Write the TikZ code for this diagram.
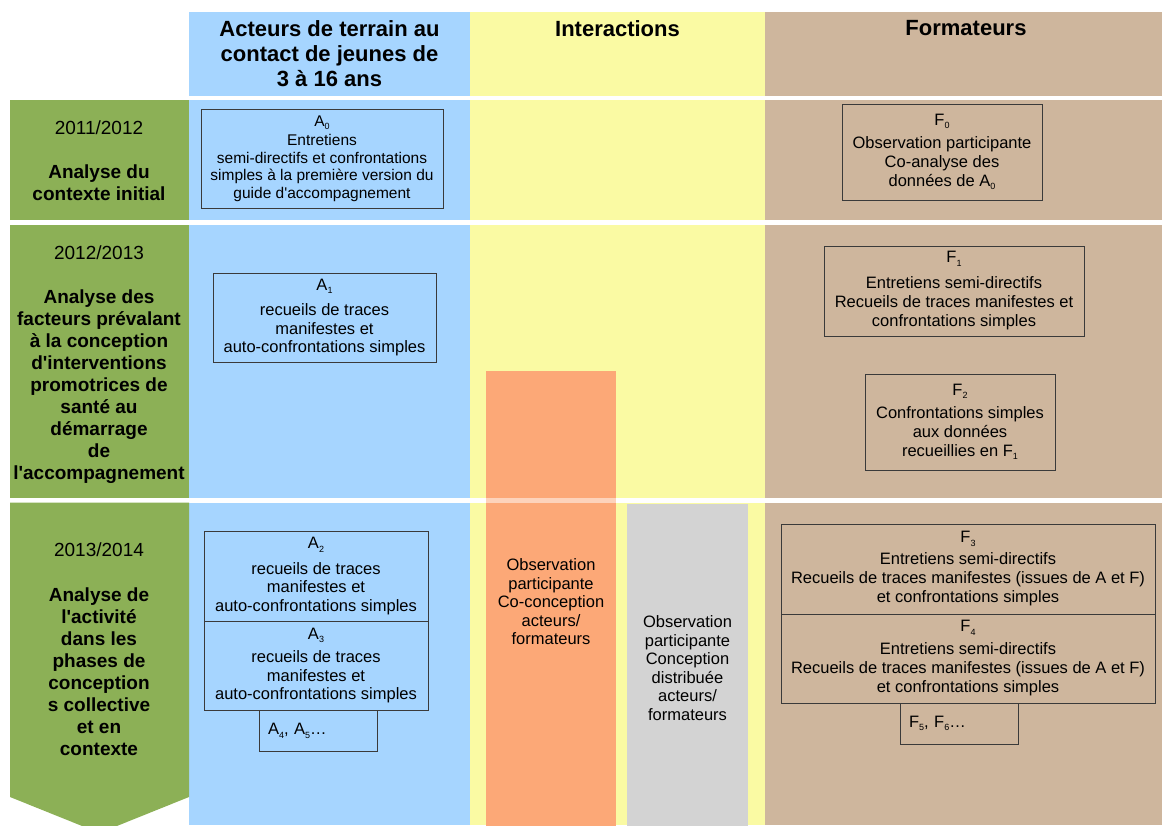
\documentclass[tikz,border=0pt]{standalone}
\usepackage{fontspec}
\setmainfont{Liberation Sans}[Ligatures=TeXOff]
\usepackage{tikz}

\definecolor{acteurs}{HTML}{A6D5FF}
\definecolor{interact}{HTML}{FAFAA3}
\definecolor{formateurs}{HTML}{CEB69D}
\definecolor{phase}{HTML}{8CB056}
\definecolor{coconc}{HTML}{FCA877}
\definecolor{distrib}{HTML}{D3D3D3}
\definecolor{trait}{HTML}{3A3A3A}

\newcommand{\setfs}[2]{\fontsize{#1}{#2}\selectfont}
\newcommand{\lowidx}[1]{\raisebox{-3.5pt}{\setfs{9}{9}#1}}

\begin{document}
\begin{tikzpicture}
        [
            x = 1pt, y = -1pt,
            box/.style = {draw = trait, line width = 0.8pt, inner sep = 0pt, align = center},
            abox/.style = {box, font = \setfs{16.5}{18.5}},
            fbox/.style = {box, font = \setfs{16.5}{19}},
            more/.style = {box, align = left, inner xsep = 9pt, text width = 100pt, minimum height = 41pt, font = \setfs{16.5}{19}},
            head/.style = {anchor = north, align = center, inner sep = 0pt, font = \setfs{22}{25}\bfseries},
            phasetxt/.style = {anchor = north, align = center, inner sep = 0pt, font = \setfs{19}{22}},
            bar/.style = {align = center, inner sep = 0pt, font = \setfs{16.5}{18.5}},
        ]

        \useasboundingbox (0,0) rectangle (1162,825);
        \clip (0,0) rectangle (1162,825);

        % colonnes
        \fill[acteurs] (189,12) rectangle (470,825);
        \fill[interact] (470,12) rectangle (765,825);
        \fill[formateurs] (765,12) rectangle (1162,825);
        \foreach \ya/\yb in {95.5/100, 219.5/224.5, 498/502.5}
            \fill[white] (0,\ya) rectangle (1162,\yb);

        % phases
        \fill[phase] (10,100) rectangle (189,219.5);
        \fill[phase] (10,224.5) rectangle (189,498);
        \fill[phase] (10,502.5) -- (189,502.5) -- (189,797) -- (99.5,833) -- (10,797) -- cycle;

        \node[head] (hact) at (329.5,20) {Acteurs de terrain au\\contact de jeunes de\\3 à 16 ans};
        \node[head] (hint) at (617.5,20) {Interactions};
        \node[head] (hfor) at (966,20) {Formateurs};

        \node[phasetxt] (p1) at (99,121) {2011/2012\\[22pt]\textbf{Analyse du}\\\textbf{contexte initial}};
        \node[phasetxt] (p2) at (99,246) {2012/2013\\[22pt]\textbf{Analyse des}\\\textbf{facteurs prévalant}\\\textbf{à la conception}\\\textbf{d'interventions}\\\textbf{promotrices de}\\\textbf{santé au}\\\textbf{démarrage}\\\textbf{de}\\\textbf{l'accompagnement}};
        \node[phasetxt] (p3) at (99,543) {2013/2014\\[23pt]\textbf{Analyse de}\\\textbf{l'activité}\\\textbf{dans les}\\\textbf{phases de}\\\textbf{conception}\\\textbf{s collective}\\\textbf{et en}\\\textbf{contexte}};

        % interactions
        \node[bar, fill = coconc, minimum width = 130, minimum height = 462] (cocon) at (551,602) {Observation\\participante\\Co-conception\\acteurs/\\formateurs};
        \fill[white, opacity = 0.5] (cocon.west |- 0,498) rectangle (cocon.east |- 0,502.5);
        \node[bar, fill = distrib, minimum width = 121, minimum height = 328] (distr) at (687.5,668) {Observation\\participante\\Conception\\distribuée\\acteurs/\\formateurs};

        % acteurs
        \node[abox, font = \setfs{15.5}{17.5}, minimum width = 242, minimum height = 99] (a0) at (322,158.5) {A\lowidx{0}\\[2pt]Entretiens\\semi-directifs et confrontations\\simples à la première version du\\guide d'accompagnement};
        \node[abox, minimum width = 223, minimum height = 89] (a1) at (324.5,317.5) {A\lowidx{1}\\[7pt]recueils de traces\\manifestes et\\auto-confrontations simples};
        \node[abox, minimum width = 224, minimum height = 90] (a2) at (316,576) {A\lowidx{2}\\[7pt]recueils de traces\\manifestes et\\auto-confrontations simples};
        \node[abox, minimum width = 224, minimum height = 89] (a3) at (316,665.5) {A\lowidx{3}\\[5pt]recueils de traces\\manifestes et\\auto-confrontations simples};
        \node[more] (a45) at (318,731) {A\lowidx{4}, A\lowidx{5}\dots};

        % formateurs
        \node[fbox, minimum width = 200, minimum height = 96] (f0) at (942,152) {F\lowidx{0}\\[4pt]Observation participante\\Co-analyse des\\données de A\lowidx{0}};
        \node[fbox, minimum width = 260, minimum height = 90] (f1) at (954,291) {F\lowidx{1}\\[7pt]Entretiens semi-directifs\\Recueils de traces manifestes et\\confrontations simples};
        \node[fbox, minimum width = 190, minimum height = 96] (f2) at (960,422) {F\lowidx{2}\\[4pt]Confrontations simples\\aux données\\recueillies en F\lowidx{1}};
        \node[fbox, minimum width = 374, minimum height = 90] (f3) at (968,569) {F\lowidx{3}\\[3pt]Entretiens semi-directifs\\Recueils de traces manifestes (issues de A et F)\\et confrontations simples};
        \node[fbox, minimum width = 374, minimum height = 89] (f4) at (968,658.5) {F\lowidx{4}\\[4pt]Entretiens semi-directifs\\Recueils de traces manifestes (issues de A et F)\\et confrontations simples};
        \node[more] (f56) at (959,723.5) {F\lowidx{5}, F\lowidx{6}\dots};

    \end{tikzpicture}
\end{document}
